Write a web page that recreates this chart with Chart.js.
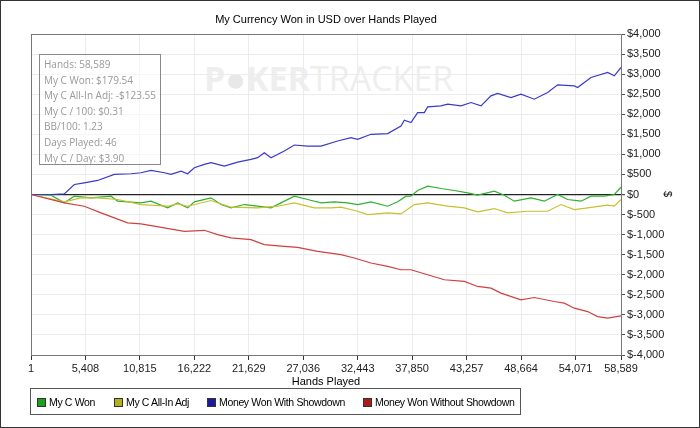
<!DOCTYPE html>
<html><head><meta charset="utf-8">
<script src="https://cdn.jsdelivr.net/npm/chart.js@4"></script>
<style>
body{margin:0;background:#fff;font-family:"Liberation Sans",Arial,sans-serif;}
#wrap{position:relative;width:700px;height:428px;box-sizing:border-box;border:1px solid #333;overflow:hidden;}
canvas{position:absolute;left:0;top:0;}
.t{position:absolute;font-size:11px;color:#000;white-space:nowrap;}
#info{position:absolute;left:38px;top:53px;height:111px;border:1px solid #888;background:rgba(255,255,255,0.6);font-family:"Open Sans",sans-serif;font-size:10px;color:#999;line-height:15.6px;padding:2px 4px 0 4px;box-sizing:border-box;white-space:nowrap;}
#wm{position:absolute;left:203px;top:54px;font-family:"Open Sans",sans-serif;font-size:34px;font-weight:bold;color:#eeeeee;white-space:nowrap;}
#legend{position:absolute;left:29px;top:387px;width:491px;height:27px;border:1px solid #555;box-sizing:border-box;font-size:10.5px;white-space:nowrap;}
.li{position:absolute;top:7px;display:flex;align-items:center;letter-spacing:-0.35px;}
.sw{width:7px;height:7px;border:1px solid #333;margin-right:3px;}
</style></head><body>
<div id="wrap">
<div id="wm">P<span style="color:#e8e8e8">●</span>KER<span style="font-weight:normal">TRACKER</span></div>
<canvas id="c" width="700" height="428"></canvas>
<div class="t" style="left:0;width:650px;text-align:center;top:12px;">My Currency Won in USD over Hands Played</div>
<div class="t" style="left:0;width:650px;text-align:center;top:374px;">Hands Played</div>
<div class="t" style="left:664px;top:187px;transform:rotate(90deg);">$</div>
<div id="info">Hands: 58,589<br>My C Won: $179.54<br>My C All-In Adj: -$123.55<br>My C / 100: $0.31<br>BB/100: 1.23<br>Days Played: 46<br>My C / Day: $3.90</div>
<div id="legend">
<div class="li" style="left:6px"><span class="sw" style="background:#1aa01a"></span>My C Won</div>
<div class="li" style="left:83px"><span class="sw" style="background:#b0b020"></span>My C All-In Adj</div>
<div class="li" style="left:176px"><span class="sw" style="background:#1a1aa0"></span>Money Won With Showdown</div>
<div class="li" style="left:332px"><span class="sw" style="background:#b01a1a"></span>Money Won Without Showdown</div>
</div>
</div>
<script>
const xTicks=[1,5408,10815,16222,21629,27036,32443,37850,43257,48664,54071,58589];
const yTicks=[-4000,-3500,-3000,-2500,-2000,-1500,-1000,-500,0,500,1000,1500,2000,2500,3000,3500,4000];

const blueHands=[1,1986,3310,4303,5296,6620,8275,9930,10923,11916,13240,13902,14895,15557,16219,17212,17874,19198,20522,21846,22508,23170,23832,25156,26149,27473,28797,30452,31776,32438,33762,35417,36741,37072,37734,38396,39058,39389,40713,41375,42699,43692,44685,45678,46340,47664,48657,49981,51305,52298,53953,54284,55608,57263,57925,58589];
const blueVals=[0,0,17,250,292,350,500,517,542,600,542,500,583,517,667,750,792,708,808,875,917,1042,917,1083,1233,1208,1208,1333,1417,1375,1500,1517,1708,1850,1792,2042,2042,2183,2208,2250,2208,2292,2208,2458,2517,2417,2500,2375,2542,2733,2708,2667,2917,3042,2958,3167];

const redHands=[1,3310,5296,6951,9599,10923,13240,15226,17212,18536,19860,21846,23170,25156,26480,28466,30783,32107,33762,35417,36741,37734,39389,41044,43030,44354,45678,46671,48657,49981,51967,52960,53953,55277,56270,57263,58589];
const redVals=[0,-208,-292,-458,-708,-733,-833,-917,-892,-1000,-1083,-1125,-1250,-1292,-1317,-1417,-1500,-1583,-1708,-1792,-1875,-1875,-2000,-2125,-2167,-2292,-2333,-2458,-2625,-2567,-2667,-2708,-2833,-2917,-3042,-3083,-3025];

const greenHands=[1,1986,3310,4303,5958,7944,8606,10923,11916,13571,14564,15557,16219,17874,18867,19860,21184,22508,23832,24825,26149,27473,28797,30121,31445,32438,33762,35417,36410,37237,37734,38396,39389,40713,42037,43361,44354,46009,47002,47995,49650,50974,52298,53291,54615,55608,56932,57925,58589];
const greenVals=[0,-17,-208,-42,-83,-42,-167,-208,-167,-333,-208,-333,-183,-83,-250,-333,-250,-292,-333,-208,-42,-125,-208,-183,-208,-250,-183,-292,-183,-42,-42,100,208,150,100,42,-17,83,-17,-167,-83,-167,0,-125,-167,-42,-42,0,180];

const yellowHands=[1,3310,4965,6620,8606,10923,13571,14564,15557,17874,19860,22508,24495,26149,28135,29790,30783,32438,33431,35417,36741,38065,39389,41375,43030,44354,46009,47333,49319,51305,52629,53953,55277,57263,57925,58589];
const yellowVals=[0,-183,-83,-83,-125,-250,-292,-233,-292,-150,-317,-333,-292,-208,-333,-333,-317,-417,-500,-458,-483,-250,-208,-292,-333,-433,-350,-458,-417,-417,-250,-375,-333,-267,-292,-124];

const pts=(h,v)=>h.map((x,i)=>({x,y:v[i]}));
const ds=(label,h,v,color)=>({label,data:pts(h,v),borderColor:color,borderWidth:1.2,pointRadius:0,tension:0,fill:false});

new Chart(document.getElementById('c'),{
 type:'line',
 data:{datasets:[
  ds('Money Won Without Showdown',redHands,redVals,'#d04040'),
  ds('Money Won With Showdown',blueHands,blueVals,'#3a3ac8'),
  ds('My C All-In Adj',yellowHands,yellowVals,'#c8c030'),
  ds('My C Won',greenHands,greenVals,'#30b030')
 ]},
 options:{
  responsive:false,animation:false,devicePixelRatio:1,
  layout:{padding:{left:30,top:33,right:0,bottom:0}},
  plugins:{legend:{display:false},tooltip:{enabled:false}},
  scales:{
   x:{type:'linear',min:1,max:58589,
    afterBuildTicks:s=>{s.ticks=xTicks.map(v=>({value:v}));},
    afterFit:s=>{s.height=74;},
    grid:{color:'#ececec',tickColor:'#333',tickLength:5},
    border:{color:'#555'},
    ticks:{autoSkip:false,maxRotation:0,color:'#222',font:{family:'Liberation Sans',size:11},padding:2,
      callback:v=>v.toLocaleString('en-US')}
   },
   y:{position:'right',min:-4000,max:4000,
    afterBuildTicks:s=>{s.ticks=yTicks.map(v=>({value:v}));},
    afterFit:s=>{s.width=80;},
    grid:{color:c=>c.tick&&c.tick.value===0?'#222':'#ececec',lineWidth:c=>c.tick&&c.tick.value===0?1.3:1,tickColor:'#555',tickLength:4},
    border:{color:'#555'},
    ticks:{color:'#222',font:{family:'Liberation Sans',size:11},padding:2,
      callback:v=>'$'+(v<0?'-':'')+Math.abs(v).toLocaleString('en-US')}
   }
  }
 },
 plugins:[{id:'frame',afterDraw(ch){const a=ch.chartArea,x=ch.ctx;x.save();x.strokeStyle='#777';x.lineWidth=1;x.strokeRect(a.left+0.5,a.top+0.5,a.right-a.left,a.bottom-a.top);x.restore();}}]
});
</script>
</body></html>
